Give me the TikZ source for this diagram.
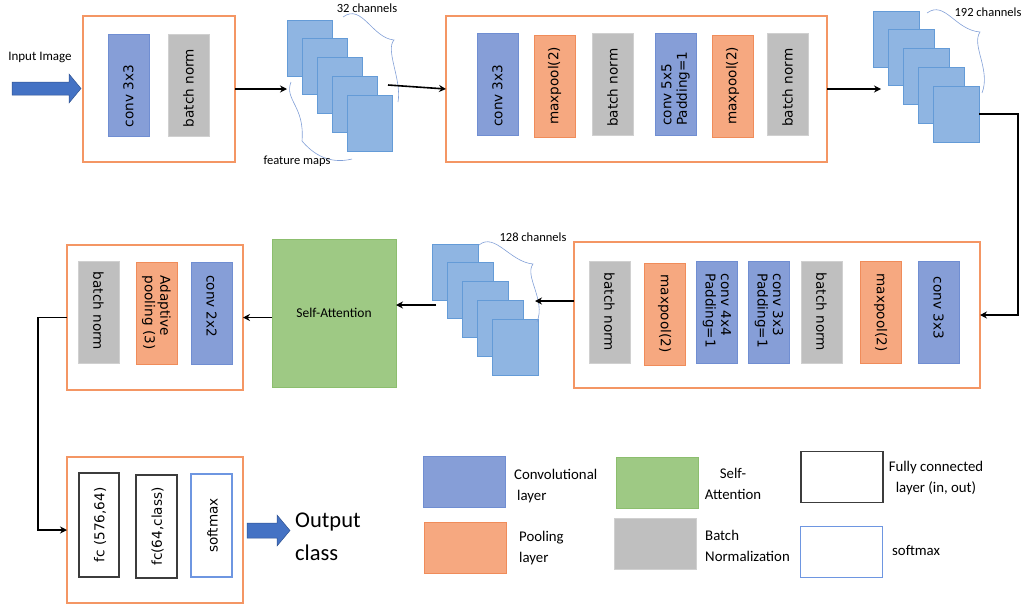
\documentclass[tikz,border=0pt]{standalone}
\usepackage{fontspec}
\setmainfont{Carlito}
\newfontfamily\dvs{DejaVu Sans}
\usetikzlibrary{arrows.meta}
\definecolor{convfill}{RGB}{134,158,215}
\definecolor{convdraw}{RGB}{112,142,210}
\definecolor{poolfill}{RGB}{246,168,128}
\definecolor{pooldraw}{RGB}{240,140,90}
\definecolor{bnfill}{RGB}{191,191,191}
\definecolor{bndraw}{RGB}{208,208,208}
\definecolor{attfill}{RGB}{158,201,132}
\definecolor{attdraw}{RGB}{140,190,110}
\definecolor{stagecol}{RGB}{244,150,100}
\definecolor{fmfill}{RGB}{143,181,226}
\definecolor{fmdraw}{RGB}{100,155,215}
\definecolor{bracecol}{RGB}{130,160,215}
\definecolor{arrowblue}{RGB}{68,114,196}
\definecolor{arrowedge}{RGB}{47,82,143}
\definecolor{fcdraw}{RGB}{60,60,60}
\definecolor{smxdraw}{RGB}{110,150,225}
\begin{document}
\begin{tikzpicture}[x=1pt,y=-1pt,
  cell/.style={inner sep=0pt, outer sep=0pt, minimum width=41pt, minimum height=102pt, line width=0.7pt},
  conv/.style={cell, fill=convfill, draw=convdraw},
  pool/.style={cell, fill=poolfill, draw=pooldraw},
  bn/.style={cell, fill=bnfill, draw=bndraw},
  fcb/.style={cell, fill=white, draw=fcdraw, line width=1.1pt},
  smx/.style={cell, fill=white, draw=smxdraw, line width=1.1pt},
  att/.style={inner sep=0pt, outer sep=0pt, fill=attfill, draw=attdraw, line width=0.7pt},
  stage/.style={inner sep=0pt, outer sep=0pt, draw=stagecol, line width=1.2pt, minimum height=146pt},
  fmap/.style={inner sep=0pt, outer sep=0pt, fill=fmfill, draw=fmdraw, line width=0.7pt, anchor=north west, minimum height=56pt},
  legbox/.style={inner sep=0pt, outer sep=0pt, minimum width=82pt, minimum height=51pt, line width=0.9pt},
  vt/.style={font=\dvs\fontsize{13.6}{15.5}\selectfont, inner sep=0pt, align=left},
  up/.style={vt, rotate=90, anchor=west},
  down/.style={vt, rotate=-90, anchor=west},
  mid/.style={vt, rotate=90, anchor=center},
  lab/.style={font=\fontsize{12.5}{15}\selectfont, inner sep=0pt},
  leg/.style={font=\fontsize{14.8}{21.5}\selectfont, inner sep=0pt},
  conn/.style={draw=black, line width=1.6pt, -{Stealth[length=7pt,width=7pt]}},
  brace/.style={draw=bracecol, line width=0.6pt},
  bigarrow/.style={fill=arrowblue, draw=arrowedge, line width=0.5pt}
]
\useasboundingbox (0,0) rectangle (1025,608);

% ---------- input ----------
\node[lab, font=\fontsize{13}{15}\selectfont] (inlab) at (40,57) {Input Image};
\fill[bigarrow] (12,82) -- (69,82) -- (69,74) -- (81,88.5) -- (69,103) -- (69,95) -- (12,95) -- cycle;

% ---------- stage 1 ----------
\node[stage, minimum width=152pt] (box1) at (159,89) {};
\node[conv] (s1a) at (128.5,85.5) {};
\node[bn]   (s1b) at (188.5,85.5) {};
\node[up] at ([yshift=9pt]s1a.south) {conv 3x3};
\node[up] at ([yshift=9pt]s1b.south) {batch norm};

% feature maps 32
\foreach \i in {0,...,4}
  \node[fmap, minimum width=45pt] (fa\i) at (287+15*\i, 20+18.75*\i) {};
\draw[brace] (343,17) .. controls (362,3) and (372,38) .. (394,40) .. controls (385,50) and (402,80) .. (398,102);
\draw[brace] (291,82) .. controls (284,100) and (305,106) .. (302,141) .. controls (318,160) and (336,163) .. (352,159);
\node[lab] (t32) at (367,8) {32 channels};
\node[lab] (tfm) at (297,161) {feature maps};

% ---------- stage 2 ----------
\node[stage, minimum width=381pt] (box2) at (636.5,89) {};
\node[conv] (s2a) at (497.5,84) {};
\node[pool] (s2b) at (554.5,86) {};
\node[bn]   (s2c) at (612.5,84) {};
\node[conv] (s2d) at (675.5,84) {};
\node[pool] (s2e) at (732.5,86) {};
\node[bn]   (s2f) at (787.5,84) {};
\node[up] at ([yshift=8pt]s2a.south) {conv 3x3};
\node[up] at ([yshift=12pt]s2b.south) {maxpool(2)};
\node[up] at ([yshift=8pt]s2c.south) {batch norm};
\node[up] at ([yshift=9pt]s2d.south) {conv 5x5\\Padding=1};
\node[up] at ([yshift=12pt]s2e.south) {maxpool(2)};
\node[up] at ([yshift=8pt]s2f.south) {batch norm};

% feature maps 192
\foreach \i in {0,...,4}
  \node[fmap, minimum width=46pt] (fb\i) at (873+15*\i, 11+18.75*\i) {};
\draw[brace] (927,13) .. controls (945,0) and (955,30) .. (980,32) .. controls (971,45) and (991,70) .. (982,93);
\node[lab] (t192) at (988,12) {192 channels};

% ---------- stage 3 ----------
\node[stage, minimum width=406pt] (box3) at (777,315) {};
\node[bn]   (s3a) at (609.5,312.5) {};
\node[pool] (s3b) at (664.5,314.5) {};
\node[conv] (s3c) at (717,312.5) {};
\node[conv] (s3d) at (769,312.5) {};
\node[bn]   (s3e) at (821.5,312.5) {};
\node[pool] (s3f) at (880.5,312.5) {};
\node[conv] (s3g) at (938.5,312.5) {};
\node[down] at ([yshift=-11pt]s3a.north) {batch norm};
\node[down] at ([yshift=-11pt]s3b.north) {maxpool(2)};
\node[down] at ([yshift=-12pt]s3c.north) {conv 4x4\\Padding=1};
\node[down] at ([yshift=-12pt]s3d.north) {conv 3x3\\Padding=1};
\node[down] at ([yshift=-11pt]s3e.north) {batch norm};
\node[down] at ([yshift=-12pt]s3f.north) {maxpool(2)};
\node[down] at ([yshift=-15pt]s3g.north) {conv 3x3};

% feature maps 128
\foreach \i in {0,...,4}
  \node[fmap, minimum width=46pt] (fc\i) at (432+15*\i, 244+18.75*\i) {};
\draw[brace] (479,245) .. controls (495,232) and (510,262) .. (533,264) .. controls (524,276) and (546,300) .. (537,322);
\node[lab] (t128) at (533,237) {128 channels};

% ---------- self-attention ----------
\node[att, minimum width=124pt, minimum height=148pt] (sa) at (334,313) {};
\node[lab, font=\fontsize{13.5}{15}\selectfont] at (sa.center) {Self-Attention};

% ---------- stage 4 ----------
\node[stage, minimum width=176pt, minimum height=145pt] (box4) at (155,317.5) {};
\node[bn]   (s4a) at (98.5,312.5) {};
\node[pool] (s4b) at (156.5,313.5) {};
\node[conv] (s4c) at (211.5,313) {};
\node[down] at ([yshift=-10pt]s4a.north) {batch norm};
\node[down] at ([yshift=-13pt]s4b.north) {Adaptive\\pooling (3)};
\node[down] at ([yshift=-13pt]s4c.north) {conv 2x2};

% ---------- stage 5 ----------
\node[stage, minimum width=176pt] (box5) at (155,530) {};
\node[fcb, minimum width=40pt, minimum height=104pt] (s5a) at (99,525) {};
\node[fcb, minimum height=103pt] (s5b) at (156.5,526.5) {};
\node[smx, minimum height=103pt] (s5c) at (211.5,525.5) {};
\node[mid] at ([xshift=1pt]s5a.center) {fc (576,64)};
\node[mid] at ([xshift=1pt]s5b.center) {fc(64,class)};
\node[mid] at ([xshift=1pt]s5c.center) {softmax};

% output
\fill[bigarrow] (247,523) -- (277,523) -- (277,515) -- (290,530.5) -- (277,546) -- (277,538) -- (247,538) -- cycle;
\node[lab, font=\fontsize{22.5}{33}\selectfont, anchor=west, align=left] (outlab) at (295,537) {Output\\class};

% ---------- connectors ----------
\coordinate (e1) at (287,89);
\coordinate (a2) at (388,85);
\coordinate (e2) at (881,89);
\coordinate (e3) at (535,301);
\coordinate (a4) at (436,305);
\draw[conn] (box1.east |- e1) -- (e1);
\draw[conn] (a2) -- (box2.west);
\draw[conn] (box2.east |- e2) -- (e2);
\draw[conn] (fb4.east) -- ++(39,0) |- (box3.east);
\draw[conn] (box3.west |- e3) -- (e3);
\draw[conn] (a4) -- (sa.east |- a4);
\draw[conn] (sa.west |- box4.east) -- (box4.east);
\draw[conn] (box4.west) -- ++(-29,0) |- (box5.west);

% ---------- legend ----------
\node[legbox, fill=convfill, draw=convdraw] (lg1) at (464,481.5) {};
\node[legbox, fill=poolfill, draw=pooldraw] (lg2) at (465.5,547.5) {};
\node[legbox, fill=attfill, draw=attdraw] (lg3) at (657,482.5) {};
\node[legbox, fill=bnfill, draw=bndraw] (lg4) at (655.5,543.5) {};
\node[legbox, fill=white, draw=fcdraw, line width=1.1pt] (lg5) at (842,477) {};
\node[legbox, fill=white, draw=smxdraw, line width=1.1pt] (lg6) at (841.5,552) {};
\node[leg, anchor=west, align=left] at (514,486) {Convolutional\\\hspace{3pt}layer};
\node[leg, anchor=west, align=left] at (519,548) {Pooling\\layer};
\node[leg, align=center] at (733,484) {Self-\\Attention};
\node[leg, anchor=west, align=left] at (705,546) {Batch\\Normalization};
\node[leg, align=center] at (936,478) {Fully connected\\layer (in, out)};
\node[leg, anchor=west] at (892,550) {softmax};
\end{tikzpicture}
\end{document}
